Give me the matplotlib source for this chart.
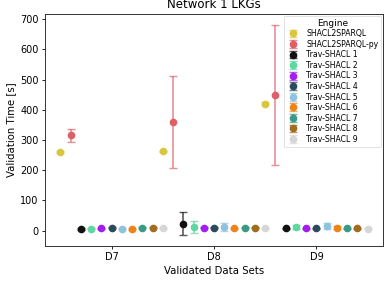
import matplotlib.pyplot as plt

datasets = ["D7", "D8", "D9"]
engines = ["SHACL2SPARQL", "SHACL2SPARQL-py", "Trav-SHACL 1", "Trav-SHACL 2",
           "Trav-SHACL 3", "Trav-SHACL 4", "Trav-SHACL 5", "Trav-SHACL 6",
           "Trav-SHACL 7", "Trav-SHACL 8", "Trav-SHACL 9"]
colors = ["#d9c63c", "#de5f66", "#111111", "#5fd8a0", "#a41ef0", "#2b4a5c",
          "#8ec3e0", "#ec8419", "#3a9a86", "#a06c1e", "#d6d6d6"]

# mean validation time per data set (D7, D8, D9) and error half-width
means = [
    [261, 262, 420],
    [315, 359, 450],
    [6, 22, 7],
    [6, 12, 11],
    [8, 9, 7],
    [9, 9, 8],
    [6, 11, 15],
    [5, 8, 9],
    [9, 9, 8],
    [9, 9, 8],
    [8, 8, 6],
]
errs = [
    [3, 3, 4],
    [22, 152, 232],
    [3, 38, 3],
    [2, 19, 7],
    [2, 2, 2],
    [2, 2, 2],
    [2, 13, 10],
    [2, 2, 5],
    [2, 2, 2],
    [2, 2, 2],
    [2, 2, 2],
]

fig = plt.figure(figsize=(3.89, 2.82), dpi=100)
ax = fig.add_axes([0.1157, 0.1277, 0.8689, 0.8227])

for j, name in enumerate(engines):
    xs = [i + (j - 5) * 0.1 for i in range(len(datasets))]
    ax.errorbar(xs, means[j], yerr=errs[j], fmt="o", color=colors[j],
                ecolor=colors[j] + "b0", elinewidth=1.2, capsize=3,
                capthick=1.0, markersize=4.5, label=name)

ax.set_xticks(range(len(datasets)))
ax.set_xticklabels(datasets)
ax.set_yticks(range(0, 701, 100))
ax.tick_params(labelsize=7, length=2.5, width=0.6, pad=2)
for s in ax.spines.values():
    s.set_linewidth(0.7)
    s.set_color("#333333")
ax.set_xlabel("Validated Data Sets", fontsize=7.3, labelpad=3)
ax.set_ylabel("Validation Time [s]", fontsize=7.3, labelpad=3)
ax.set_title("Network 1 LKGs", fontsize=8.5, pad=4)

leg = ax.legend(title="Engine", loc="upper right", fontsize=5.6, title_fontsize=6.5,
                borderaxespad=0.2, handletextpad=0.9, labelspacing=0.2,
                borderpad=0.4, handlelength=1.6)
leg.get_frame().set_linewidth(0.5)

fig.savefig("out.png", dpi=100)
